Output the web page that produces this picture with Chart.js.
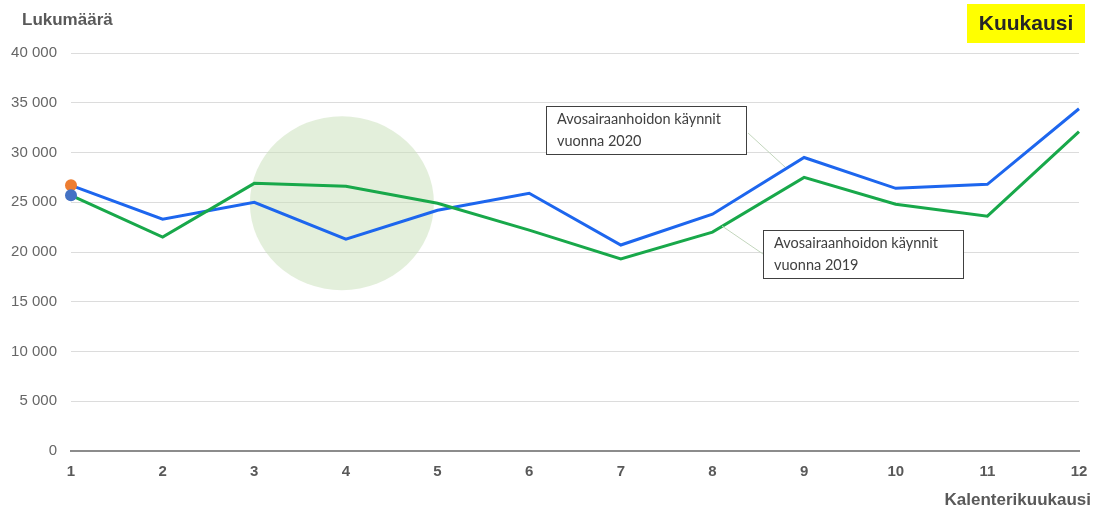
<!DOCTYPE html>
<html><head><meta charset="utf-8">
<script src="https://cdn.jsdelivr.net/npm/chart.js@4/dist/chart.umd.min.js"></script>
<style>html,body{margin:0;padding:0;background:#fff;}canvas{display:block;}</style>
</head><body>
<canvas id="c" width="1105" height="509"></canvas>
<script>
const months = ['1','2','3','4','5','6','7','8','9','10','11','12'];
const visits2020 = [26700, 23300, 25000, 21300, 24200, 25900, 20700, 23800, 29500, 26400, 26800, 34400];
const visits2019 = [25700, 21500, 26900, 26600, 24900, 22200, 19300, 22000, 27500, 24800, 23600, 32100];
const yTicks = [0, 5000, 10000, 15000, 20000, 25000, 30000, 35000, 40000];
const label2020 = ['Avosairaanhoidon käynnit', 'vuonna 2020'];
const label2019 = ['Avosairaanhoidon käynnit', 'vuonna 2019'];
const highlight = {month: '4', y: 24900};

const fmt = v => String(v).replace(/\B(?=(\d{3})+(?!\d))/g, ' ');

const decor = {
  id: 'decor',
  beforeDatasetsDraw(chart) {
    const {ctx, scales:{x, y}} = chart;
    const cx = x.getPixelForValue(months.indexOf(highlight.month)) - 4;
    const cy = y.getPixelForValue(highlight.y);
    ctx.save();
    ctx.fillStyle = 'rgba(200,224,184,0.5)';
    ctx.beginPath();
    ctx.ellipse(cx, cy, 92, 87, 0, 0, Math.PI*2);
    ctx.fill();
    ctx.restore();
  },
  afterDraw(chart) {
    const {ctx} = chart;
    ctx.save();
    ctx.fillStyle = '#595959';
    ctx.font = 'bold 17px "Liberation Sans", Arial, sans-serif';
    ctx.textBaseline = 'middle';
    ctx.textAlign = 'left';
    ctx.fillText('Lukumäärä', 22, 20);
    ctx.textAlign = 'right';
    ctx.fillText('Kalenterikuukausi', 1091, 500);
    ctx.fillStyle = '#ffff00';
    ctx.fillRect(967, 4, 118, 39);
    ctx.fillStyle = '#262626';
    ctx.font = 'bold 21px "Liberation Sans", Arial, sans-serif';
    ctx.textAlign = 'center';
    ctx.fillText('Kuukausi', 1026, 24);
    ctx.strokeStyle = '#c3d6bd';
    ctx.lineWidth = 1;
    ctx.beginPath();
    ctx.moveTo(748, 133); ctx.lineTo(785, 167);
    ctx.moveTo(722, 226); ctx.lineTo(763, 254);
    ctx.stroke();
    const box = (bx, by, lines) => {
      ctx.fillStyle = '#fff';
      ctx.fillRect(bx, by, 201, 49);
      ctx.strokeStyle = '#404040';
      ctx.lineWidth = 1;
      ctx.strokeRect(bx + 0.5, by + 0.5, 200, 48);
      ctx.fillStyle = '#404040';
      ctx.font = '14.5px Lato, "Open Sans", sans-serif';
      ctx.textAlign = 'left';
      ctx.textBaseline = 'middle';
      ctx.fillText(lines[0], bx + 11, by + 13);
      ctx.fillText(lines[1], bx + 11, by + 35);
    };
    box(546, 106, label2020);
    box(763, 230, label2019);
    ctx.restore();
  }
};

new Chart(document.getElementById('c'), {
  type: 'line',
  data: {
    labels: months,
    datasets: [
      {
        label: '2019',
        data: visits2019,
        borderColor: '#18a84a',
        borderWidth: 3,
        tension: 0,
        pointRadius: ctx => ctx.dataIndex === 0 ? 6 : 0,
        pointBackgroundColor: '#4472c4',
        pointBorderWidth: 0
      },
      {
        label: '2020',
        data: visits2020,
        borderColor: '#1d66ee',
        borderWidth: 3,
        tension: 0,
        pointRadius: ctx => ctx.dataIndex === 0 ? 6 : 0,
        pointBackgroundColor: '#ed7d31',
        pointBorderWidth: 0
      }
    ]
  },
  options: {
    responsive: false,
    animation: false,
    layout: {padding: {top: 53, right: 26, left: 0, bottom: 0}},
    plugins: {legend: {display: false}, tooltip: {enabled: false}},
    scales: {
      x: {
        offset: false,
        grid: {display: false, drawTicks: false},
        border: {display: true, color: '#8c8c8c', width: 2},
        ticks: {padding: 12, color: '#595959', font: {family: '"Liberation Sans", Arial, sans-serif', size: 15, weight: 'bold'}, maxRotation: 0},
        afterFit: s => { s.height = 58; }
      },
      y: {
        min: 0, max: 40000,
        afterBuildTicks: s => { s.ticks = yTicks.map(v => ({value: v})); },
        grid: {color: '#dcdcdc', lineWidth: 1, drawTicks: false},
        border: {display: false},
        ticks: {padding: 14, color: '#666', font: {family: '"Liberation Sans", Arial, sans-serif', size: 15}, callback: v => fmt(v)},
        afterFit: s => { s.width = 71; }
      }
    }
  },
  plugins: [decor]
});
</script>
</body></html>
